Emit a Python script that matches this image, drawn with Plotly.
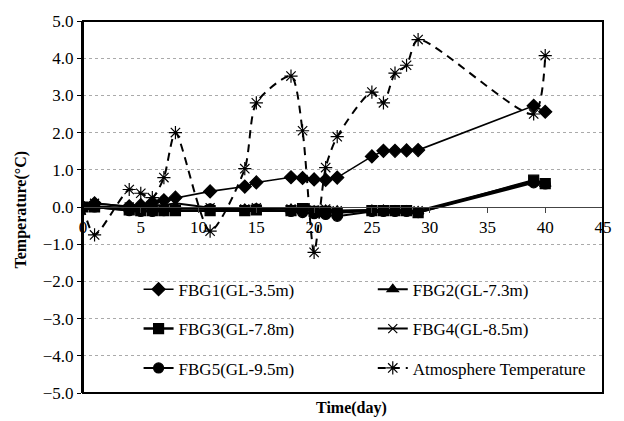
import plotly.graph_objects as go

days = [0, 1, 4, 5, 6, 7, 8, 11, 14, 15, 18, 19, 20, 21, 22, 25, 26, 27, 28, 29, 39, 40]
fbg1 = [0.0, 0.1, 0.02, 0.05, 0.12, 0.18, 0.25, 0.42, 0.55, 0.66, 0.8, 0.78, 0.74, 0.73, 0.79, 1.36, 1.51, 1.51, 1.52, 1.53, 2.72, 2.56]
fbg2 = [0.0, 0.02, -0.03, -0.05, -0.05, -0.03, -0.02, -0.05, -0.05, -0.03, -0.05, -0.08, -0.1, -0.08, -0.1, -0.08, -0.08, -0.1, -0.1, -0.12, 0.68, 0.62]
fbg3 = [0.0, 0.0, -0.08, -0.1, -0.1, -0.1, -0.1, -0.1, -0.1, -0.08, -0.1, -0.04, -0.12, -0.12, -0.15, -0.1, -0.1, -0.1, -0.1, -0.15, 0.72, 0.63]
fbg4 = [0.0, 0.1, 0.0, -0.02, 0.05, 0.05, 0.1, -0.02, -0.05, -0.02, -0.05, -0.05, -0.08, -0.05, -0.1, -0.08, -0.08, -0.08, -0.1, -0.1, 0.7, 0.65]
fbg5 = [0.0, 0.0, -0.1, -0.12, -0.12, -0.1, -0.05, -0.05, -0.08, -0.05, -0.12, -0.15, -0.18, -0.2, -0.25, -0.12, -0.12, -0.12, -0.12, -0.15, 0.65, 0.62]
atmos = [0.0, -0.75, 0.47, 0.37, 0.25, 0.79, 2.0, -0.65, 1.03, 2.8, 3.52, 2.05, -1.22, 1.06, 1.89, 3.09, 2.8, 3.6, 3.81, 4.5, 2.5, 4.07]

names = ["FBG1(GL-3.5m)", "FBG2(GL-7.3m)", "FBG3(GL-7.8m)", "FBG4(GL-8.5m)", "FBG5(GL-9.5m)", "Atmosphere Temperature"]

FONT = "Times New Roman, Liberation Serif, serif"

fig = go.Figure()
specs = [
    (fbg1, "diamond", 10, 1.6, "legend"),
    (fbg2, "triangle-up", 10, 2, "legend2"),
    (fbg3, "square", 10, 2.5, "legend3"),
    (fbg4, "x-thin-open", 9, 2, "legend4"),
    (fbg5, "circle", 10, 2, "legend5"),
]
for (vals, sym, sz, lw, lg), nm in zip(specs, names[:5]):
    fig.add_trace(go.Scatter(
        x=days, y=vals, name=nm, mode="lines+markers",
        line=dict(color="black", width=lw),
        marker=dict(symbol=sym, size=sz, color="black",
                    line=dict(color="black", width=1.2)),
        legend=lg))

fig.add_trace(go.Scatter(
    x=days, y=atmos, name=names[5], mode="lines+markers",
    line=dict(color="black", width=2, dash="8px,6px", shape="spline", smoothing=0.7),
    marker=dict(symbol="asterisk-open", size=11, color="black",
                line=dict(color="black", width=1.2)),
    legend="legend6"))

L, R, T, B = 83, 607, 15, 393
PW, PH = R - L, B - T

def px(xp):
    return (xp - L) / PW

def py(yp):
    return (B - yp) / PH

col1, col2 = 139, 375
rows = [288, 328, 368]
legpos = [(col1, rows[0]), (col2, rows[0]), (col1, rows[1]), (col2, rows[1]), (col1, rows[2]), (col2, rows[2])]
legkeys = ["legend", "legend2", "legend3", "legend4", "legend5", "legend6"]
leglayout = {}
for k, (lx, ly) in zip(legkeys, legpos):
    leglayout[k] = dict(x=px(lx), y=py(ly), xanchor="left", yanchor="middle",
                        bgcolor="rgba(0,0,0,0)", borderwidth=0,
                        font=dict(family=FONT, size=17, color="black"))

fig.update_layout(
    width=624, height=421,
    margin=dict(l=L, r=624 - R, t=T, b=421 - B),
    paper_bgcolor="white", plot_bgcolor="white",
    font=dict(family=FONT, size=17, color="black"),
    showlegend=True,
    **leglayout,
    xaxis=dict(range=[0, 45], dtick=5, tick0=0, anchor="free", position=0.5,
               showline=True, linecolor="#444", linewidth=1,
               ticks="outside", ticklen=5, tickcolor="#444",
               showgrid=False, zeroline=False,
               tickfont=dict(family=FONT, size=17, color="black")),
    yaxis=dict(range=[-5, 5], dtick=1, tick0=-5, tickformat=".1f",
               showline=True, linecolor="black", linewidth=2,
               ticks="outside", ticklen=4, tickcolor="black",
               showgrid=True, gridcolor="#aaa", griddash="dot", gridwidth=1,
               zeroline=False,
               tickfont=dict(family=FONT, size=17, color="black")),
    shapes=[dict(type="rect", xref="paper", yref="paper", x0=0, y0=0, x1=1, y1=1,
                 line=dict(color="black", width=2), layer="above")],
    annotations=[
        dict(text="<b>Temperature(°C)</b>", textangle=-90, xref="paper", yref="paper",
             x=px(20), y=py(207), xanchor="center", yanchor="middle", showarrow=False,
             font=dict(family=FONT, size=16, color="black")),
        dict(text="<b>Time(day)</b>", xref="paper", yref="paper",
             x=px(354), y=py(408), xanchor="center", yanchor="middle", showarrow=False,
             font=dict(family=FONT, size=16, color="black")),
    ],
)

fig.write_html("out.html")
